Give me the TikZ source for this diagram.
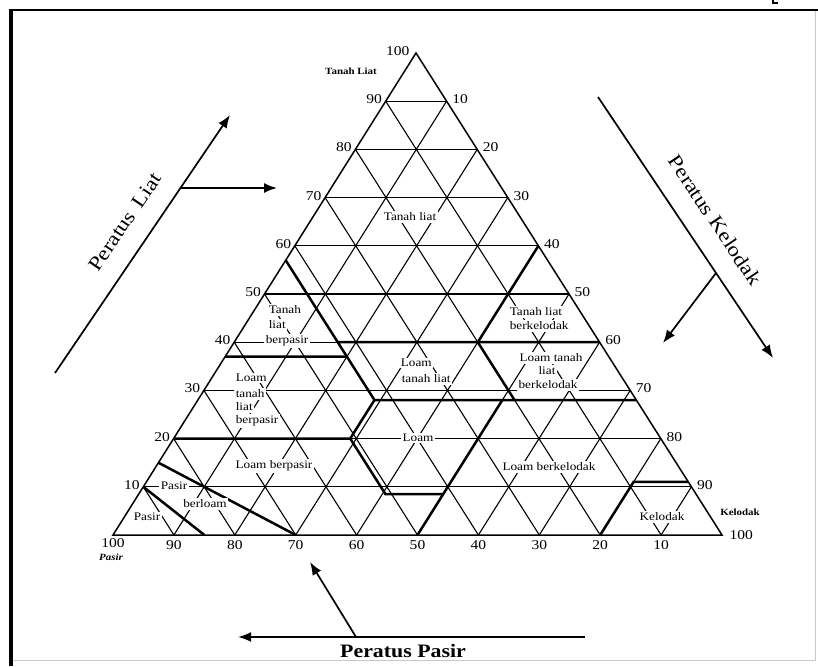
\documentclass[tikz,border=0pt]{standalone}
\usepackage{fontspec}
\setmainfont{Liberation Serif}
\newfontfamily\wideserif[FakeStretch=1.15]{Liberation Serif}
\usetikzlibrary{arrows.meta}

\begin{document}
\begin{tikzpicture}[x=1pt,y=-1pt,
  font=\wideserif,
  gridline/.style={line width=1.1pt},
  boundary/.style={line width=2.5pt},
  outline/.style={line width=1.5pt, line join=miter},
  axisnum/.style={font=\wideserif\fontsize{13.5}{13.5}\selectfont, inner sep=0.5pt},
  region/.style={font=\wideserif\fontsize{11.5}{11.5}\selectfont, fill=white, inner sep=1.6pt},
  cornername/.style={font=\wideserif\bfseries\fontsize{9.5}{9.5}\selectfont, inner sep=0.5pt},
  bigarrow/.style={line width=1.7pt, -{Latex[length=13pt,width=10pt]}},
  axistitle/.style={font=\wideserif\fontsize{20}{20}\selectfont, inner sep=0pt},
]
\useasboundingbox (0,0) rectangle (818,666);
\fill[white] (0,0) rectangle (818,666);

% frame
\draw[black!22, line width=0.8pt] (815,10.5) -- (815,660) -- (10,660);
\draw[line width=4pt] (10.5,666) -- (10.5,9);
\draw[line width=2pt] (8.5,10.5) -- (818,10.5);
\draw[line width=2pt] (773,0) -- (773,3) -- (778,3);

% corners of the triangle: T = clay, L = sand, R = silt
\coordinate (T) at (416,53);
\coordinate (L) at (113,535);
\coordinate (R) at (722,535);

% ten-percent grid (weights as fractions)
\foreach \c in {1,...,9} {
  \pgfmathsetmacro\a{\c/10}
  \pgfmathsetmacro\b{1-\c/10}
  % constant clay
  \draw[gridline] (barycentric cs:T=\a,L=\b,R=0) -- (barycentric cs:T=\a,L=0,R=\b);
  % constant silt
  \draw[gridline] (barycentric cs:T=\b,L=0,R=\a) -- (barycentric cs:T=0,L=\b,R=\a);
  % constant sand
  \draw[gridline] (barycentric cs:T=\b,L=\a,R=0) -- (barycentric cs:T=0,L=\a,R=\b);
}

% class boundaries
\coordinate (scTop)  at (barycentric cs:T=0.57,L=0.43,R=0);
\coordinate (scC40)  at (barycentric cs:T=0.40,L=0.43,R=0.17);
\coordinate (scBot)  at (barycentric cs:T=0.37,L=0.43,R=0.20);
\coordinate (clC28)  at (barycentric cs:T=0.28,L=0.43,R=0.29);
\coordinate (scLeft) at (barycentric cs:T=0.37,L=0.63,R=0);
\coordinate (sic60)  at (barycentric cs:T=0.60,L=0,R=0.40);
\coordinate (sic40)  at (barycentric cs:T=0.40,L=0.20,R=0.40);
\coordinate (c40R)   at (barycentric cs:T=0.40,L=0,R=0.60);
\coordinate (sicl28) at (barycentric cs:T=0.28,L=0.20,R=0.52);
\coordinate (c28R)   at (barycentric cs:T=0.28,L=0,R=0.72);
\coordinate (lo20)   at (barycentric cs:T=0.20,L=0.51,R=0.29);
\coordinate (c20L)   at (barycentric cs:T=0.20,L=0.80,R=0);
\coordinate (lo8a)   at (barycentric cs:T=0.085,L=0.51,R=0.405);
\coordinate (lo8b)   at (barycentric cs:T=0.085,L=0.415,R=0.50);
\coordinate (si50t)  at (barycentric cs:T=0.28,L=0.22,R=0.50);
\coordinate (si50b)  at (barycentric cs:T=0,L=0.50,R=0.50);
\coordinate (si80b)  at (barycentric cs:T=0,L=0.20,R=0.80);
\coordinate (si80t)  at (barycentric cs:T=0.11,L=0.09,R=0.80);
\coordinate (c11R)   at (barycentric cs:T=0.11,L=0,R=0.89);
\coordinate (ls15)   at (barycentric cs:T=0.15,L=0.85,R=0);
\coordinate (ls0)    at (barycentric cs:T=0,L=0.70,R=0.30);
\coordinate (s10)    at (barycentric cs:T=0.10,L=0.90,R=0);
\coordinate (s0)     at (barycentric cs:T=0,L=0.85,R=0.15);

\draw[boundary] (scTop) -- (scC40) -- (scBot) -- (clC28) -- (lo20) -- (lo8a) -- (lo8b);
\draw[boundary] (scC40) -- (c40R);
\draw[boundary] (scLeft) -- (scBot);
\draw[boundary] (sic60) -- (sic40) -- (sicl28);
\draw[boundary] (clC28) -- (c28R);
\draw[boundary] (c20L) -- (lo20);
\draw[boundary] (si50t) -- (si50b);
\draw[boundary] (si80b) -- (si80t) -- (c11R);
\draw[boundary] (ls15) -- (ls0);
\draw[boundary] (s10) -- (s0);

% triangle outline
\draw[outline] (T) -- (L) -- (R) -- cycle;

% axis numbers
\foreach \c in {1,...,9} {
  \pgfmathsetmacro\a{\c/10}
  \pgfmathsetmacro\b{1-\c/10}
  \pgfmathtruncatemacro\v{10*\c}
  \node[axisnum, anchor=east, xshift=-3pt, yshift=2pt] (clay\c) at (barycentric cs:T=\a,L=\b,R=0) {\v};
  \node[axisnum, anchor=west, xshift=5pt, yshift=2pt] (silt\c) at (barycentric cs:T=\b,L=0,R=\a) {\v};
  \node[axisnum, anchor=north, yshift=-5pt] (sand\c) at (barycentric cs:T=0,L=\a,R=\b) {\v};
}
\node[axisnum, anchor=east, xshift=-6pt, yshift=2pt] (clay100) at (T) {100};
\node[axisnum, anchor=west, xshift=7pt] (silt100) at (R) {100};
\node[axisnum, anchor=north, yshift=-3pt] (sand100) at (L) {100};

\node[cornername] (clayname) at (351,71) {Tanah Liat};
\node[cornername] (siltname) at (740,512) {Kelodak};
\node[cornername, font=\wideserif\bfseries\itshape\fontsize{9.5}{9.5}\selectfont] (sandname) at (111,557) {Pasir};

% class names
\node[region] (clayA) at (410,217) {Tanah liat};
\node[region, anchor=west] (sclA) at (267,310) {Tanah};
\node[region, anchor=west] (sclB) at (267,325) {liat};
\node[region, anchor=west] (sclC) at (264,341) {berpasir};
\node[region, anchor=west] (scloA) at (234,378) {Loam};
\node[region, anchor=west] (scloB) at (234,394) {tanah};
\node[region, anchor=west] (scloC) at (234,407) {liat};
\node[region, anchor=west] (scloD) at (234,421) {berpasir};
\node[region, anchor=west] (cloA) at (399,363) {Loam};
\node[region, anchor=west] (cloB) at (400,379) {tanah liat};
\node[region, anchor=west] (sicA) at (508,312) {Tanah liat};
\node[region, anchor=west] (sicB) at (508,326) {berkelodak};
\node[region] (siclA) at (551,358) {Loam tanah};
\node[region] (siclB) at (547,371) {liat};
\node[region] (siclC) at (548,385) {berkelodak};
\node[region] (loam) at (418,438) {Loam};
\node[region] (sloam) at (274,466) {Loam berpasir};
\node[region] (siloam) at (549,467) {Loam berkelodak};
\node[region] (silt) at (662,517) {Kelodak};
\node[region] (lsA) at (174,486) {Pasir};
\node[region] (lsB) at (205,504) {berloam};
\node[region] (sand) at (147,517) {Pasir};

% clay direction
\coordinate (liatTail) at (55,373);
\coordinate (liatHead) at (230,115);
\coordinate (liatFork) at (180.5,188);
\coordinate (liatPoint) at (277,188);
\draw[bigarrow] (liatTail) -- (liatHead);
\draw[bigarrow] (liatFork) -- (liatPoint);
\node[axistitle, rotate=55.85] (liatTitle) at (125,222) {Peratus\, Liat};

% silt direction
\coordinate (keloTail) at (598,97);
\coordinate (keloHead) at (773,358);
\coordinate (keloFork) at (716,273);
\coordinate (keloPoint) at (663,343);
\draw[bigarrow] (keloTail) -- (keloHead);
\draw[bigarrow] (keloFork) -- (keloPoint);
\node[axistitle, rotate=-56.2] (keloTitle) at (715,220) {Peratus Kelodak};

% sand direction
\coordinate (pasirTail) at (585,637);
\coordinate (pasirHead) at (238,637);
\coordinate (pasirFork) at (356,637);
\coordinate (pasirPoint) at (310,562);
\draw[bigarrow, line width=2pt] (pasirTail) -- (pasirHead);
\draw[bigarrow] (pasirFork) -- (pasirPoint);
\node[axistitle, font=\wideserif\bfseries\fontsize{19}{19}\selectfont] (pasirTitle) at (403,651) {Peratus Pasir};
\end{tikzpicture}
\end{document}
